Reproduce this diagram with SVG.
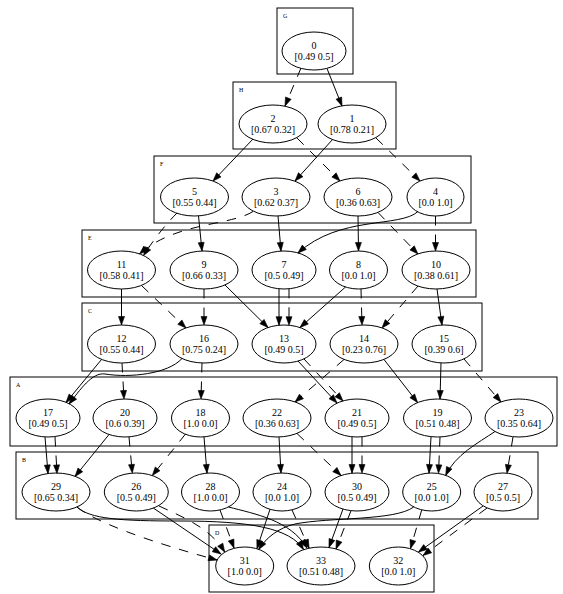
<svg xmlns="http://www.w3.org/2000/svg" width="563" height="594" viewBox="0 0 563 594">
  <style>
    .cluster rect { fill: none; stroke: #000; stroke-width: 1; }
    .cluster text { font-family: "Liberation Serif", "Times New Roman", serif; font-size: 6px; fill: #000; }
    .node ellipse { fill: none; stroke: #000; stroke-width: 1; }
    .node text { font-family: "Liberation Serif", "Times New Roman", serif; font-size: 10px; fill: #000; text-anchor: middle; }
    #edges path { fill: none; stroke: #000; stroke-width: 1; marker-end: url(#arrow); }
    #edges path.d { stroke-dasharray: 9.5 9; }
  </style>
  <defs>
    <marker id="arrow" markerUnits="userSpaceOnUse" viewBox="0 -4 9 8" refX="8.5" refY="0" markerWidth="9" markerHeight="8" orient="auto" overflow="visible">
      <path d="M0,-3 L8.5,0 L0,3 Z" fill="#000" stroke="#000" stroke-width="0.6" stroke-dasharray="none"/>
    </marker>
  </defs>

  <!-- rank boxes -->
  <g id="clusters">
    <g class="cluster" id="cluster_G"><rect x="277" y="8" width="76" height="66"/><text x="283" y="17.5">G</text></g>
    <g class="cluster" id="cluster_H"><rect x="233" y="82" width="163" height="67"/><text x="239" y="91.5">H</text></g>
    <g class="cluster" id="cluster_F"><rect x="154" y="156" width="317" height="67"/><text x="160" y="165.5">F</text></g>
    <g class="cluster" id="cluster_E"><rect x="82" y="230" width="394" height="67"/><text x="88" y="239.5">E</text></g>
    <g class="cluster" id="cluster_C"><rect x="82" y="303" width="400" height="68"/><text x="88" y="312.5">C</text></g>
    <g class="cluster" id="cluster_A"><rect x="10" y="377" width="547" height="69"/><text x="16" y="386.5">A</text></g>
    <g class="cluster" id="cluster_B"><rect x="16" y="452" width="522" height="67"/><text x="22" y="461.5">B</text></g>
    <g class="cluster" id="cluster_D"><rect x="209" y="525" width="225" height="67"/><text x="215" y="534.5">D</text></g>
  </g>

  <!-- connectors -->
  <g id="edges">
    <path class="d" d="M301,68 L285,106"/>
    <path d="M327,68.5 L342,106"/>
    <path d="M253,139 L213,181"/>
    <path class="d" d="M297,138 L340,181"/>
    <path d="M333,139 L295,181"/>
    <path class="d" d="M376,138 L420,181"/>

    <path d="M198.5,216 L202,251"/>
    <path class="d" d="M177,213 C168,222 156,236 143.5,255.5"/>
    <path class="d" d="M253,211.5 C230,226 175,222 139.5,254"/>
    <path d="M278,216 L281,251"/>
    <path d="M418,211.5 C400,228 340,215 298,253"/>
    <path d="M358,216 L358.5,251"/>
    <path class="d" d="M378,212.5 L418,254"/>
    <path class="d" d="M435.5,216 L435.5,251"/>

    <path d="M121.5,289 L121.5,325"/>
    <path class="d" d="M141.5,285.5 L186,328"/>
    <path class="d" d="M204,289 L204,325"/>
    <path d="M225,285 L268,327.5"/>
    <path d="M279,288.8 L279,325.2"/>
    <path class="d" d="M289,288.8 L289,325.2"/>
    <path d="M345.5,287 L300,327.5"/>
    <path class="d" d="M361,289 L362,325"/>
    <path class="d" d="M418,286 L382,328"/>
    <path d="M437,289 L442,325"/>

    <path d="M101.5,359.5 L66,402.5"/>
    <path d="M182,358.5 C168,374 130,378 105,374 C92,372 80,390 69,404"/>
    <path class="d" d="M122,363 L124,399"/>
    <path class="d" d="M202,363 L201,399"/>
    <path d="M298,361 L337,403"/>
    <path class="d" d="M304,359 L343,401"/>
    <path class="d" d="M344,359.5 L295,402"/>
    <path d="M384,359.5 L417.5,402.5"/>
    <path d="M441,363 L440,399"/>
    <path class="d" d="M464,359 L501,402"/>

    <path d="M45,437 L48,473.5"/>
    <path class="d" d="M55,437 L57,473.5"/>
    <path d="M109,434.5 L75,476.5"/>
    <path class="d" d="M129,437 L132.3,473"/>
    <path class="d" d="M185.5,434 L152.3,475.5"/>
    <path d="M204,437 L207,473"/>
    <path d="M279,437 L281,473"/>
    <path class="d" d="M297,433.5 L341,475.5"/>
    <path d="M352,437 L352,473"/>
    <path class="d" d="M362,437 L362,473"/>
    <path d="M431,437 L429,473"/>
    <path class="d" d="M440,437 L438.5,473.3"/>
    <path d="M495,431.5 C478,443 455,455 445.7,475.5"/>
    <path class="d" d="M513,437 L507,473.2"/>

    <path class="d" d="M77,507 C95,522 150,542 217,560"/>
    <path d="M77,507 C90,519 120,521 180,521 C250,521 290,528 303.5,549.5"/>
    <path d="M228.5,507 C255,514 290,520 307,548"/>
    <path class="d" d="M220,510 L234,548"/>
    <path d="M153.3,508 L221,554"/>
    <path class="d" d="M159,506 C185,518 210,528 224.7,552"/>
    <path d="M270,509.3 L257,548.5"/>
    <path class="d" d="M292,510 L309,548"/>
    <path d="M413.7,507 C395,521 330,517 295,524 C278,528 266,538 258.7,549.5"/>
    <path d="M343,509 L329,547.5"/>
    <path class="d" d="M351,510.7 L336,549"/>
    <path class="d" d="M421.7,510 L410.5,548.5"/>
    <path d="M483,506 L418.5,552"/>
    <path class="d" d="M487,508 L423,555.5"/>
  </g>

  <!-- states -->
  <g id="n0" class="node"><ellipse cx="314" cy="51" rx="32" ry="19"/><text x="314" y="49">0</text><text x="314" y="60">[0.49 0.5]</text></g>
  <g id="n2" class="node"><ellipse cx="273" cy="124" rx="34" ry="19"/><text x="273" y="122">2</text><text x="273" y="133">[0.67 0.32]</text></g>
  <g id="n1" class="node"><ellipse cx="352" cy="124" rx="34" ry="19"/><text x="352" y="122">1</text><text x="352" y="133">[0.78 0.21]</text></g>

  <g id="n5" class="node"><ellipse cx="194.5" cy="197" rx="34" ry="19"/><text x="194.5" y="195">5</text><text x="194.5" y="206">[0.55 0.44]</text></g>
  <g id="n3" class="node"><ellipse cx="276" cy="197" rx="34" ry="19"/><text x="276" y="195">3</text><text x="276" y="206">[0.62 0.37]</text></g>
  <g id="n6" class="node"><ellipse cx="358" cy="197" rx="34" ry="19"/><text x="358" y="195">6</text><text x="358" y="206">[0.36 0.63]</text></g>
  <g id="n4" class="node"><ellipse cx="435.5" cy="197" rx="28.5" ry="19"/><text x="435.5" y="195">4</text><text x="435.5" y="206">[0.0 1.0]</text></g>

  <g id="n11" class="node"><ellipse cx="121.5" cy="270" rx="34" ry="19"/><text x="121.5" y="268">11</text><text x="121.5" y="279">[0.58 0.41]</text></g>
  <g id="n9" class="node"><ellipse cx="204" cy="270" rx="34" ry="19"/><text x="204" y="268">9</text><text x="204" y="279">[0.66 0.33]</text></g>
  <g id="n7" class="node"><ellipse cx="284" cy="270" rx="32" ry="19"/><text x="284" y="268">7</text><text x="284" y="279">[0.5 0.49]</text></g>
  <g id="n8" class="node"><ellipse cx="358.5" cy="270" rx="29" ry="19"/><text x="358.5" y="268">8</text><text x="358.5" y="279">[0.0 1.0]</text></g>
  <g id="n10" class="node"><ellipse cx="436" cy="270" rx="34" ry="19"/><text x="436" y="268">10</text><text x="436" y="279">[0.38 0.61]</text></g>

  <g id="n12" class="node"><ellipse cx="121.5" cy="344" rx="34" ry="19"/><text x="121.5" y="342">12</text><text x="121.5" y="353">[0.55 0.44]</text></g>
  <g id="n16" class="node"><ellipse cx="204" cy="344" rx="34" ry="19"/><text x="204" y="342">16</text><text x="204" y="353">[0.75 0.24]</text></g>
  <g id="n13" class="node"><ellipse cx="284" cy="344" rx="32" ry="19"/><text x="284" y="342">13</text><text x="284" y="353">[0.49 0.5]</text></g>
  <g id="n14" class="node"><ellipse cx="364" cy="344" rx="34" ry="19"/><text x="364" y="342">14</text><text x="364" y="353">[0.23 0.76]</text></g>
  <g id="n15" class="node"><ellipse cx="444" cy="344" rx="32" ry="19"/><text x="444" y="342">15</text><text x="444" y="353">[0.39 0.6]</text></g>

  <g id="n17" class="node"><ellipse cx="48" cy="418" rx="32" ry="19"/><text x="48" y="416">17</text><text x="48" y="427">[0.49 0.5]</text></g>
  <g id="n20" class="node"><ellipse cx="125" cy="418" rx="32" ry="19"/><text x="125" y="416">20</text><text x="125" y="427">[0.6 0.39]</text></g>
  <g id="n18" class="node"><ellipse cx="200.5" cy="418" rx="29" ry="19"/><text x="200.5" y="416">18</text><text x="200.5" y="427">[1.0 0.0]</text></g>
  <g id="n22" class="node"><ellipse cx="277" cy="418" rx="34" ry="19"/><text x="277" y="416">22</text><text x="277" y="427">[0.36 0.63]</text></g>
  <g id="n21" class="node"><ellipse cx="357" cy="418" rx="32" ry="19"/><text x="357" y="416">21</text><text x="357" y="427">[0.49 0.5]</text></g>
  <g id="n19" class="node"><ellipse cx="437.5" cy="418" rx="34" ry="19"/><text x="437.5" y="416">19</text><text x="437.5" y="427">[0.51 0.48]</text></g>
  <g id="n23" class="node"><ellipse cx="519" cy="418" rx="34" ry="19"/><text x="519" y="416">23</text><text x="519" y="427">[0.35 0.64]</text></g>

  <g id="n29" class="node"><ellipse cx="56" cy="492" rx="34" ry="19"/><text x="56" y="490">29</text><text x="56" y="501">[0.65 0.34]</text></g>
  <g id="n26" class="node"><ellipse cx="136.3" cy="492" rx="32" ry="19"/><text x="136.3" y="490">26</text><text x="136.3" y="501">[0.5 0.49]</text></g>
  <g id="n28" class="node"><ellipse cx="210.5" cy="492" rx="29" ry="19"/><text x="210.5" y="490">28</text><text x="210.5" y="501">[1.0 0.0]</text></g>
  <g id="n24" class="node"><ellipse cx="282" cy="492" rx="29" ry="19"/><text x="282" y="490">24</text><text x="282" y="501">[0.0 1.0]</text></g>
  <g id="n30" class="node"><ellipse cx="357" cy="492" rx="32" ry="19"/><text x="357" y="490">30</text><text x="357" y="501">[0.5 0.49]</text></g>
  <g id="n25" class="node"><ellipse cx="431.7" cy="492" rx="29" ry="19"/><text x="431.7" y="490">25</text><text x="431.7" y="501">[0.0 1.0]</text></g>
  <g id="n27" class="node"><ellipse cx="503" cy="492" rx="29" ry="19"/><text x="503" y="490">27</text><text x="503" y="501">[0.5 0.5]</text></g>

  <g id="n31" class="node"><ellipse cx="244.7" cy="566" rx="29" ry="19"/><text x="244.7" y="564">31</text><text x="244.7" y="575">[1.0 0.0]</text></g>
  <g id="n33" class="node"><ellipse cx="321" cy="566" rx="34" ry="19"/><text x="321" y="564">33</text><text x="321" y="575">[0.51 0.48]</text></g>
  <g id="n32" class="node"><ellipse cx="398.3" cy="566" rx="29" ry="19"/><text x="398.3" y="564">32</text><text x="398.3" y="575">[0.0 1.0]</text></g>
</svg>
